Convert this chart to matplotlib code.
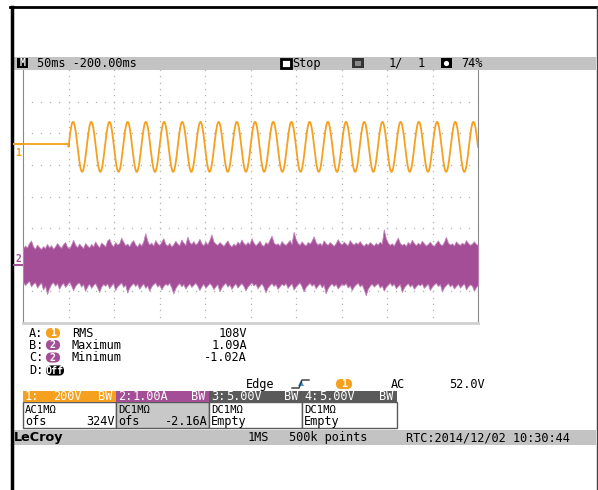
import numpy as np
import matplotlib
matplotlib.use("Agg")
import matplotlib.pyplot as plt
import matplotlib.patches as patches

# ---- data ----
# channel 1: 50 Hz mains voltage, 200 V/div, trace starts at the trigger point
CH1_FREQ_HZ = 50.0
CH1_PEAK_V = 158.0
CH1_PRE_TRIGGER_V = 18.0
CH1_VOLTS_PER_DIV = 200.0
CH1_POS_DIV = 1.57

# channel 2: noisy current, 1 A/div, upper / lower envelope of the band (A)
CH2_AMPS_PER_DIV = 1.0
CH2_POS_DIV = -2.10
ch2_upper = [
    0.46, 0.55, 0.49, 0.62, 0.71, 0.52, 0.45, 0.58, 0.50, 0.44, 0.53, 0.47,
    0.60, 0.49, 0.56, 0.45, 0.52, 0.63, 0.54, 0.48, 0.59, 0.66, 0.51, 0.46,
    0.57, 0.73, 0.58, 0.50, 0.61, 0.54, 0.47, 0.63, 0.55, 0.49, 0.60, 0.52,
    0.68, 0.57, 0.50, 0.64, 0.59, 0.52, 0.71, 0.76, 0.60, 0.53, 0.66, 0.58,
    0.62, 0.80, 0.67, 0.56, 0.61, 0.53, 0.65, 0.72, 0.58, 0.52, 0.63, 0.55,
    0.68, 0.94, 0.70, 0.58, 0.64, 0.55, 0.72, 0.62, 0.57, 0.66, 0.78, 0.60,
    0.55, 0.63, 0.52, 0.59, 0.70, 0.61, 0.56, 0.74, 0.64, 0.57, 0.83, 0.66,
    0.60, 0.69, 0.58, 0.64, 0.76, 0.62, 0.56, 0.67, 0.59, 0.72, 0.90, 0.68,
    0.61, 0.57, 0.66, 0.60, 0.54, 0.63, 0.71, 0.58, 0.52, 0.61, 0.55, 0.67,
    0.60, 0.74, 0.63, 0.57, 0.66, 0.59, 0.78, 0.64, 0.56, 0.62, 0.70, 0.58,
    0.54, 0.66, 0.60, 0.73, 0.86, 0.65, 0.58, 0.62, 0.55, 0.69, 0.61, 0.57,
    0.64, 0.72, 0.59, 0.98, 0.76, 0.63, 0.57, 0.68, 0.60, 0.55, 0.66, 0.61,
    0.70, 0.84, 0.66, 0.58, 0.63, 0.56, 0.71, 0.62, 0.57, 0.66, 0.60, 0.54,
    0.62, 0.75, 0.64, 0.58, 0.67, 0.61, 0.56, 0.72, 0.63, 0.58, 0.65, 0.60,
    0.69, 0.59, 0.54, 0.62, 0.57, 0.66, 0.60, 0.55, 0.63, 0.58, 0.67, 0.61,
    1.06, 0.78, 0.64, 0.57, 0.62, 0.55, 0.68, 0.80, 0.63, 0.57, 0.61, 0.54,
    0.66, 0.59, 0.73, 0.63, 0.56, 0.64, 0.58, 0.70, 0.62, 0.55, 0.60, 0.67,
    0.58, 0.54, 0.63, 0.71, 0.60, 0.56, 0.66, 0.82, 0.64, 0.58, 0.62, 0.55,
    0.68, 0.61, 0.57, 0.64, 0.59, 0.72, 0.63, 0.57, 0.61, 0.68, 0.60, 0.56]
ch2_lower = [
    -0.60, -0.70, -0.63, -0.57, -0.74, -0.66, -0.61, -0.78, -0.69, -0.62, -0.84, -0.72,
    -0.98, -0.80, -0.67, -0.61, -0.72, -0.64, -0.82, -0.70, -0.63, -0.76, -0.68, -0.60,
    -0.71, -0.86, -0.73, -0.65, -0.62, -0.75, -0.67, -0.88, -0.74, -0.66, -0.79, -0.70,
    -0.64, -0.77, -0.92, -0.75, -0.67, -0.72, -0.65, -0.80, -0.71, -0.64, -0.86, -0.74,
    -0.68, -0.62, -0.76, -0.69, -0.94, -0.78, -0.70, -0.64, -0.73, -0.66, -0.82, -0.72,
    -0.65, -0.79, -0.71, -0.88, -0.74, -0.67, -0.62, -0.75, -0.68, -0.84, -0.73, -0.66,
    -0.70, -0.63, -0.78, -0.96, -0.80, -0.70, -0.64, -0.74, -0.67, -0.81, -0.72, -0.65,
    -0.76, -0.69, -0.63, -0.72, -0.86, -0.74, -0.66, -0.79, -0.71, -0.64, -0.70, -0.83,
    -0.74, -0.67, -0.90, -0.77, -0.69, -0.63, -0.75, -0.68, -0.82, -0.72, -0.65, -0.78,
    -0.70, -0.64, -0.73, -0.87, -0.75, -0.68, -0.62, -0.71, -0.66, -0.80, -0.72, -0.65,
    -0.76, -0.93, -0.78, -0.70, -0.64, -0.73, -0.67, -0.82, -0.74, -0.66, -0.71, -0.64,
    -0.79, -0.71, -0.65, -0.84, -0.75, -0.68, -0.62, -0.74, -0.90, -0.76, -0.69, -0.63,
    -0.72, -0.66, -0.80, -0.72, -0.65, -0.77, -0.69, -0.96, -0.80, -0.71, -0.65, -0.73,
    -0.67, -0.81, -0.73, -0.66, -0.70, -0.64, -0.78, -0.71, -0.86, -0.75, -0.68, -0.63,
    -0.74, -0.68, -0.83, -1.02, -0.82, -0.72, -0.66, -0.75, -0.69, -0.64, -0.78, -0.71,
    -0.88, -0.76, -0.69, -0.63, -0.72, -0.66, -0.80, -0.73, -0.67, -0.92, -0.78, -0.70,
    -0.64, -0.75, -0.68, -0.82, -0.74, -0.67, -0.71, -0.65, -0.79, -0.72, -0.66, -0.86,
    -0.75, -0.68, -0.63, -0.73, -0.67, -0.90, -0.77, -0.70, -0.64, -0.74, -0.68, -0.81,
    -0.73, -0.66, -0.78, -0.71, -0.65, -0.84, -0.74, -0.68, -0.72, -0.88, -0.76, -0.69]

# time base: 50 ms/div, 10 divisions, trigger one division from the left
MS_PER_DIV = 50.0
N_DIV_X, N_DIV_Y = 10, 8
TRIGGER_MS = 50.0

measure_labels = ["A:", "B:", "C:", "D:"]
measure_chan = ["1", "2", "2", "Off"]
measure_names = ["RMS", "Maximum", "Minimum", ""]
measure_values = ["108V", "1.09A", "-1.02A", ""]

chan_headers = [("1:", "200V", "BW"), ("2:", "1.00A", "BW"), ("3:", "5.00V", "BW"), ("4:", "5.00V", "BW")]
chan_coupling = ["AC1MΩ", "DC1MΩ", "DC1MΩ", "DC1MΩ"]
chan_offset = [("ofs", "324V"), ("ofs", "-2.16A"), ("Empty", ""), ("Empty", "")]

ORANGE = "#F5A01E"
PURPLE = "#A44E98"
DARK = "#5A5A5A"
BAR = "#C3C3C3"
FONT = "DejaVu Sans Mono"
FS = 8.6

W, H = 598, 490
fig = plt.figure(figsize=(W / 100, H / 100), dpi=100)

# overlay in pixel coordinates for the scope UI
ui = fig.add_axes([0, 0, 1, 1])
ui.set_xlim(0, W)
ui.set_ylim(H, 0)
ui.axis("off")


def txt(x, y, s, color="black", ha="left", size=FS, weight="normal", family=FONT, style="normal"):
    ui.text(x, y, s, color=color, ha=ha, va="center", fontsize=size,
            fontweight=weight, family=family, style=style)


def pill(x0, x1, y, label, color):
    ui.add_patch(patches.FancyBboxPatch((x0 + 4, y - 4), x1 - x0 - 8, 8,
                                        boxstyle="round,pad=0,rounding_size=4",
                                        mutation_aspect=1, fc=color, ec=color, lw=1.5))
    txt((x0 + x1) / 2, y, label, color="white", ha="center", size=7.2, weight="bold")


# outer frame
ui.plot([10, W], [7, 7], color="black", lw=2)
ui.plot([11.5, 11.5], [7, H], color="black", lw=2.5)
ui.plot([596.5, 596.5], [7, H], color="#444444", lw=1)

# header bar
ui.add_patch(patches.Rectangle((13, 57), 583, 13, fc=BAR, ec="none"))
ui.add_patch(patches.Rectangle((17, 58.5), 11, 10, fc="black"))
txt(22.5, 63.5, "M", color="white", ha="center", size=7, weight="bold")
txt(37, 63.5, "50ms -200.00ms")
ui.add_patch(patches.Rectangle((281, 59), 10, 9, fc="white", ec="black", lw=2))
txt(292, 63.5, "Stop")
ui.add_patch(patches.Rectangle((352, 58.5), 12, 10, fc="#333333"))
ui.add_patch(patches.Rectangle((355, 61), 6, 5, fc="#888888"))
txt(389, 63.5, "1/")
txt(418, 63.5, "1")
ui.add_patch(patches.Rectangle((441, 58.5), 11, 10, fc="black"))
ui.add_patch(patches.Circle((446.5, 63.5), 2.6, fc="white"))
txt(461, 63.5, "74%")

# channel markers at the left edge
ui.plot([14, 22], [144.5, 144.5], color=ORANGE, lw=1.5)
txt(18, 153, "1", color=ORANGE, ha="center", size=7, weight="bold")
txt(18, 259, "2", color=PURPLE, ha="center", size=7, weight="bold")
ui.plot([14, 22], [265, 265], color=PURPLE, lw=1.5)
ui.add_patch(patches.Polygon([[66, 70], [72, 70], [72, 73], [69, 75], [66, 73]],
                             closed=True, fc=ORANGE, ec="none"))

# measurements
rows_y = [333, 345, 357.5, 370.5]
for i in range(4):
    y = rows_y[i]
    txt(29, y, measure_labels[i])
    if measure_chan[i] == "Off":
        pill(43, 67, y, "Off", "black")
    else:
        pill(43, 63, y, measure_chan[i], ORANGE if measure_chan[i] == "1" else PURPLE)
    txt(72, y, measure_names[i])
    txt(247, y, measure_values[i], ha="right")

# trigger line
txt(246, 384, "Edge")
ui.plot([292, 299, 302, 309], [388, 388, 380, 380], color="#333333", lw=1)
ui.add_patch(patches.Polygon([[298, 386], [304, 386], [301, 380]], fc="#3A9AD9"))
pill(333, 355, 384, "1", ORANGE)
txt(391, 384, "AC")
txt(449, 384, "52.0V")

# channel boxes
box_x = [23, 116, 209, 302, 397]
head_colors = [ORANGE, PURPLE, DARK, DARK]
body_colors = ["white", "#C8C8C8", "white", "white"]
for i in range(4):
    x0, x1 = box_x[i], box_x[i + 1]
    ui.add_patch(patches.Rectangle((x0, 402), x1 - x0, 26, fc=body_colors[i], ec=DARK, lw=1))
    ui.add_patch(patches.Rectangle((x0, 391), x1 - x0, 11, fc=head_colors[i], ec="none"))
    name, scale, bw = chan_headers[i]
    txt(x0 + 2, 396.5, name, color="white")
    txt(x0 + 30 if i == 0 else x0 + 17, 396.5, scale, color="white")
    txt(x1 - 4, 396.5, bw, color="white", ha="right")
    txt(x0 + 2, 409.5, chan_coupling[i], size=7.6)
    txt(x0 + 2, 421.5, chan_offset[i][0])
    txt(x1 - 1, 421.5, chan_offset[i][1], ha="right")

# footer bar
ui.add_patch(patches.Rectangle((13, 430), 583, 15, fc=BAR, ec="none"))
txt(14, 437.5, "LeCroy", size=9.2, weight="bold", family="DejaVu Sans")
txt(248, 437.5, "1MS")
txt(289, 437.5, "500k points")
txt(406, 437.5, "RTC:2014/12/02 10:30:44")

# ---- scope grid and traces ----
ax = fig.add_axes([23 / W, 1 - 323 / H, (478 - 23) / W, (323 - 70) / H])
ax.set_xlim(0, N_DIV_X * MS_PER_DIV)
ax.set_ylim(-N_DIV_Y / 2, N_DIV_Y / 2)
ax.set_facecolor("white")
ax.set_xticks([])
ax.set_yticks([])
ax.spines["top"].set_visible(False)
ax.spines["left"].set_color("#8A8A8A")
ax.spines["right"].set_color("#8A8A8A")
ax.spines["bottom"].set_color("#CFCFCF")
ax.spines["bottom"].set_linewidth(2)

# dotted graticule: dots every 1/5 division along each grid line
minor_x = np.arange(0, N_DIV_X * 5 + 1) * MS_PER_DIV / 5
minor_y = np.arange(-N_DIV_Y * 5 // 2, N_DIV_Y * 5 // 2 + 1) / 5
for gy in range(-N_DIV_Y // 2 + 1, N_DIV_Y // 2):
    ax.plot(minor_x, np.full_like(minor_x, gy), ls="none", marker="s", ms=0.9,
            mec="none", mfc="#B0B0B0")
for gx in range(1, N_DIV_X):
    ax.plot(np.full_like(minor_y, gx * MS_PER_DIV), minor_y, ls="none", marker="s", ms=0.9,
            mec="none", mfc="#B0B0B0")

# channel 2 band
t2 = np.linspace(0, N_DIV_X * MS_PER_DIV, len(ch2_upper))
up = CH2_POS_DIV + np.array(ch2_upper) / CH2_AMPS_PER_DIV
lo = CH2_POS_DIV + np.array(ch2_lower) / CH2_AMPS_PER_DIV
ax.fill_between(t2, lo, up, color=PURPLE, edgecolor="#C086B8", lw=0.6, zorder=3)

# channel 1 trace
t1 = np.linspace(0, N_DIV_X * MS_PER_DIV, 5000)
v1 = np.where(t1 < TRIGGER_MS, CH1_PRE_TRIGGER_V,
              CH1_PEAK_V * np.sin(2 * np.pi * CH1_FREQ_HZ * (t1 - TRIGGER_MS) / 1000.0))
ax.plot(t1, CH1_POS_DIV + v1 / CH1_VOLTS_PER_DIV, color=ORANGE, lw=1.3, zorder=4)

fig.savefig("out.png", dpi=100)
